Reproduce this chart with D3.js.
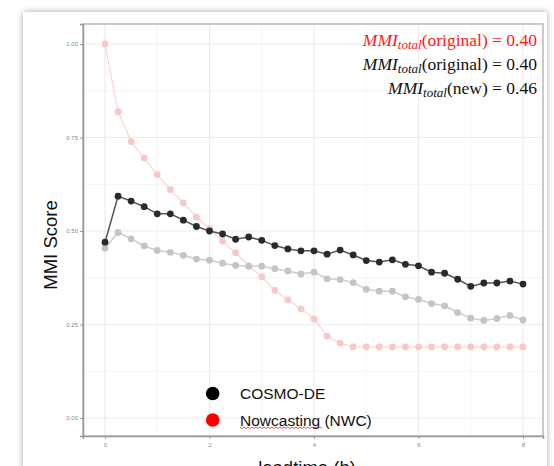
<!DOCTYPE html>
<html><head><meta charset="utf-8">
<script src="https://cdn.jsdelivr.net/npm/d3@7"></script>
<style>body{margin:0;background:#fff}svg{display:block}</style>
</head><body>
<svg id="c" width="554" height="466"></svg>
<script>
const leadtime = d3.range(0, 8.001, 0.25);
const cosmoNew = [0.470,0.593,0.580,0.565,0.546,0.546,0.529,0.512,0.500,0.492,0.478,0.484,0.475,0.461,0.452,0.447,0.447,0.438,0.449,0.436,0.421,0.417,0.423,0.411,0.407,0.390,0.387,0.371,0.352,0.361,0.361,0.366,0.358];
const cosmoOrig = [0.454,0.496,0.479,0.460,0.448,0.443,0.435,0.425,0.422,0.414,0.408,0.406,0.406,0.399,0.393,0.385,0.390,0.372,0.370,0.362,0.344,0.339,0.339,0.324,0.317,0.306,0.300,0.282,0.267,0.261,0.266,0.274,0.262];
const nwc = [1.000,0.819,0.739,0.695,0.651,0.611,0.575,0.537,0.506,0.473,0.442,0.407,0.378,0.341,0.316,0.292,0.265,0.219,0.200,0.190,0.190,0.190,0.190,0.190,0.190,0.190,0.190,0.190,0.190,0.190,0.190,0.190,0.190];
const xTicks = [0,2,4,6,8];
const yTicks = [0,0.25,0.5,0.75,1.0];
const legendLabels = ["COSMO-DE","Nowcasting (NWC)"];
const annotations = [
  {name:"original", value:"0.40", color:"#ff1a1a"},
  {name:"original", value:"0.40", color:"#111"},
  {name:"new", value:"0.46", color:"#111"}
];

const svg = d3.select("#c");
const defs = svg.append("defs");
const f = defs.append("filter").attr("id","sh").attr("x","-10%").attr("y","-10%").attr("width","120%").attr("height","120%");
f.append("feDropShadow").attr("dx",0).attr("dy",0).attr("stdDeviation",3).attr("flood-color","#000").attr("flood-opacity",0.35);

svg.append("rect").attr("x",23).attr("y",12).attr("width",524).attr("height",460).attr("fill","#fff").attr("filter","url(#sh)");

const L=83,R=543,T=24,B=436;
const x = d3.scaleLinear().domain([(L-105)/52.25, (R-105)/52.25]).range([L,R]);
const y = d3.scaleLinear().domain([(418-B)/374,(418-T)/374]).range([B,T]);

const g = svg.append("g");
g.selectAll(".mx").data([1,3,5,7]).join("line").attr("x1",d=>x(d)).attr("x2",d=>x(d)).attr("y1",T).attr("y2",B).attr("stroke","#f4f4f4").attr("stroke-width",1);
g.selectAll(".my").data([0.125,0.375,0.625,0.875]).join("line").attr("y1",d=>y(d)).attr("y2",d=>y(d)).attr("x1",L).attr("x2",R).attr("stroke","#f4f4f4").attr("stroke-width",1);
g.selectAll(".gx").data(xTicks).join("line").attr("x1",d=>x(d)).attr("x2",d=>x(d)).attr("y1",T).attr("y2",B).attr("stroke","#ececec").attr("stroke-width",1.2);
g.selectAll(".gy").data(yTicks).join("line").attr("y1",d=>y(d)).attr("y2",d=>y(d)).attr("x1",L).attr("x2",R).attr("stroke","#ececec").attr("stroke-width",1.2);

g.append("rect").attr("x",L).attr("y",T).attr("width",R-L).attr("height",B-T).attr("fill","none").attr("stroke","#b4b4b4").attr("stroke-width",1.4);

const xa = svg.append("g").attr("transform",`translate(0,${B})`).call(d3.axisBottom(x).tickValues(xTicks).tickFormat(d3.format("d")).tickSize(3).tickPadding(4));
const ya = svg.append("g").attr("transform",`translate(${L},0)`).call(d3.axisLeft(y).tickValues(yTicks).tickFormat(d3.format(".2f")).tickSize(3).tickPadding(2));
[xa,ya].forEach(a=>{
  a.select(".domain").attr("stroke","#999").attr("stroke-width",1.5);
  a.selectAll(".tick line").attr("stroke","#999");
  a.selectAll("text").attr("fill","#888").attr("font-size","6px").attr("font-family","Liberation Sans, Arial, sans-serif");
});

const series = [
  {vals:nwc, line:"#fbd3d3", pt:"#f8c8c8", w:1.2},
  {vals:cosmoOrig, line:"#cdcdcd", pt:"#c4c4c4", w:1.5},
  {vals:cosmoNew, line:"#555", pt:"#2a2a2a", w:1.5}
];
const lineGen = d3.line().x((d,i)=>x(leadtime[i])).y(d=>y(d));
series.forEach(s=>{
  svg.append("path").datum(s.vals).attr("d",lineGen).attr("fill","none").attr("stroke",s.line).attr("stroke-width",s.w);
  svg.append("g").selectAll("circle").data(s.vals).join("circle").attr("cx",(d,i)=>x(leadtime[i])).attr("cy",d=>y(d)).attr("r",3.4).attr("fill",s.pt);
});

const ann = svg.append("g").attr("font-family","Liberation Serif, DejaVu Serif, serif");
annotations.forEach((a,i)=>{
  const t = ann.append("text").attr("x",537).attr("y",46+i*24).attr("text-anchor","end").attr("fill",a.color).attr("font-size","17.5px");
  t.append("tspan").attr("font-style","italic").text("MMI");
  t.append("tspan").attr("font-style","italic").attr("font-size","13px").attr("dy",3).text("total");
  t.append("tspan").attr("dy",-3).text(`(${a.name}) = ${a.value}`);
});

const legColors = ["#000","#ff0000"];
const lg = svg.append("g").attr("font-family","Liberation Sans, Arial, sans-serif");
legendLabels.forEach((lab,i)=>{
  const cy = 393.5 + i*26.5;
  lg.append("circle").attr("cx",212.7).attr("cy",cy).attr("r",6.8).attr("fill",legColors[i]);
  lg.append("text").attr("x",240).attr("y",cy+5.5).attr("font-size","15.5px").attr("fill","#111").text(lab);
});
const sq = [];
for(let px=240; px<=322; px+=2) sq.push([px, 427 + ((px/2)%2===0?0:1.5)]);
lg.append("path").attr("d",d3.line()(sq)).attr("fill","none").attr("stroke","#e03030").attr("stroke-width",0.8);

svg.append("text").attr("x",307).attr("y",474).attr("text-anchor","middle").attr("font-size","18.5px").attr("font-family","Liberation Sans, Arial, sans-serif").attr("fill","#111").text("leadtime (h)");
svg.append("text").attr("transform","translate(57,245) rotate(-90)").attr("text-anchor","middle").attr("font-size","18.5px").attr("font-family","Liberation Sans, Arial, sans-serif").attr("fill","#111").text("MMI Score");
</script>
</body></html>
